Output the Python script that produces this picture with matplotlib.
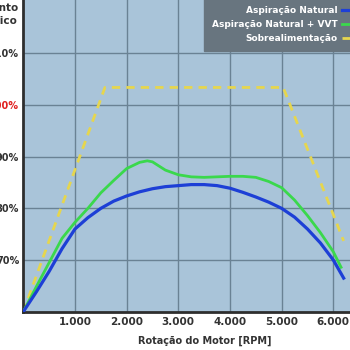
import matplotlib
matplotlib.use("Agg")
import matplotlib.pyplot as plt
from matplotlib.ticker import FixedLocator

plt.rcParams['font.family'] = ['Liberation Sans Narrow', 'DejaVu Sans']
plt.rcParams['font.weight'] = 'bold'

# ---------- Données ----------
rpm_na = [0, 250, 500, 750, 1000, 1250, 1500, 1750, 2000, 2250, 2500, 2750, 3000,
          3250, 3500, 3750, 4000, 4250, 4500, 4750, 5000, 5250, 5500, 5750, 6000, 6200]
ef_na = [60.0, 63.8, 67.8, 72.2, 76.0, 78.2, 80.0, 81.4, 82.4, 83.2, 83.8, 84.2, 84.4,
         84.6, 84.6, 84.4, 83.9, 83.1, 82.2, 81.2, 80.0, 78.3, 76.0, 73.3, 70.0, 66.5]

rpm_vvt = [0, 250, 500, 750, 1000, 1250, 1500, 1750, 2000, 2250, 2400, 2500, 2750, 3000,
           3250, 3500, 3750, 4000, 4250, 4500, 4750, 5000, 5250, 5500, 5750, 6000, 6150]
ef_vvt = [60.0, 64.8, 69.5, 74.2, 77.3, 80.0, 83.0, 85.4, 87.7, 88.9, 89.2, 89.0, 87.4, 86.5,
          86.1, 86.0, 86.1, 86.2, 86.2, 86.0, 85.2, 84.0, 81.6, 78.6, 75.3, 71.6, 68.6]

rpm_turbo = [0, 1580, 5030, 6200]
ef_turbo = [60.0, 103.4, 103.4, 73.7]

x_ticks = [1000, 2000, 3000, 4000, 5000, 6000]
x_labels = ["1.000", "2.000", "3.000", "4.000", "5.000", "6.000"]
y_ticks = [70, 80, 90, 100, 110]
y_labels = ["70%", "80%", "90%", "100%", "110%"]

# ---------- Figure ----------
fig = plt.figure(figsize=(3.5, 3.5), dpi=100)
W = 350.0
ax = fig.add_axes([23.3 / W, 38.3 / W, 360 / W, 312 / W])
ax.set_facecolor("#a9c4d9")
ax.set_xlim(0, 360 / 51.67 * 1000)
ax.set_ylim(60, 60 + 312 / 5.167)

ax.plot(rpm_na, ef_na, color="#1d3fd6", lw=2.3, label="Aspiração Natural", zorder=4)
ax.plot(rpm_vvt, ef_vvt, color="#3ad84c", lw=2.0, label="Aspiração Natural + VVT", zorder=3)
ax.plot(rpm_turbo, ef_turbo, color="#e6d64e", lw=2.0, ls=(0, (3, 2.2)),
        label="Sobrealimentação", zorder=2)

ax.xaxis.set_major_locator(FixedLocator(x_ticks))
ax.set_xticklabels(x_labels)
ax.yaxis.set_major_locator(FixedLocator(y_ticks))
ax.set_yticklabels(y_labels)
ax.tick_params(length=0, labelsize=7.5, colors="#333333", pad=3.5)
ax.tick_params(axis="y", labelsize=7, pad=3)
ax.get_yticklabels()[3].set_color("#e02020")
ax.grid(True, color="#6a8294", lw=1.0)
ax.set_axisbelow(True)

for s in ["top", "right"]:
    ax.spines[s].set_visible(False)
for s in ["left", "bottom"]:
    ax.spines[s].set_color("#2e2e2e")
    ax.spines[s].set_linewidth(2.0)

fig.text(205 / W, 4 / W, "Rotação do Motor [RPM]", ha="center", va="bottom",
         fontsize=7, color="#333333", fontweight="bold")
fig.text(18 / W, 1 - 3 / W, "Rendimento\nVolumétrico", ha="right", va="top",
         fontsize=7.5, color="#333333", fontweight="bold", linespacing=1.4)

leg = ax.legend(loc="upper right", bbox_to_anchor=(362 / W, 1 + 2 / W),
                bbox_transform=fig.transFigure, markerfirst=False,
                fancybox=False, framealpha=1, facecolor="#68757f", edgecolor="#68757f",
                fontsize=6.5, handlelength=1.3, handletextpad=0.5, labelspacing=0.55,
                borderpad=0.9, borderaxespad=0)
for t in leg.get_texts():
    t.set_color("white")
    t.set_fontweight("bold")

fig.savefig("out.png", dpi=100)
